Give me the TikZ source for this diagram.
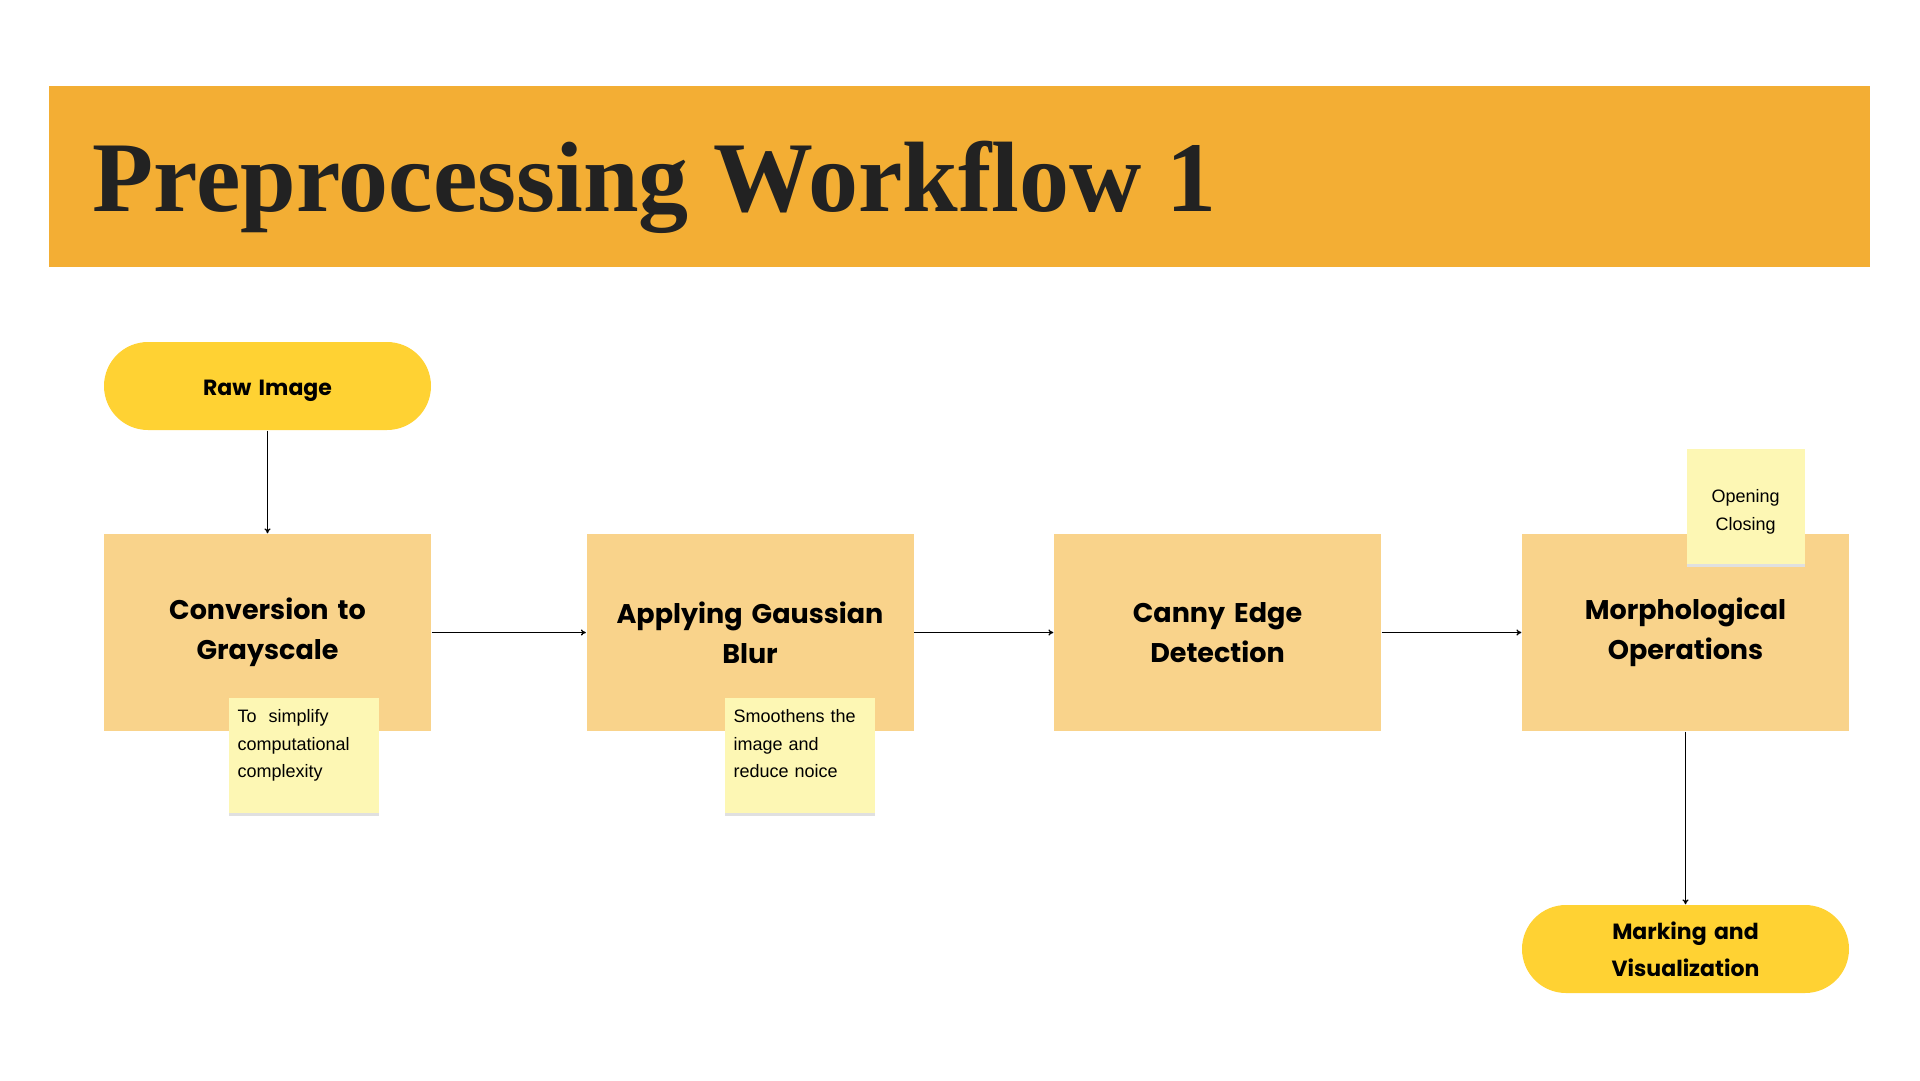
\documentclass[tikz,border=0pt]{standalone}
\usepackage{fontspec}
\setmainfont{Liberation Serif}
\newfontfamily\flowfont{Poppins}
\newfontfamily\notefont{Liberation Sans}
\usetikzlibrary{arrows.meta,shadows}

\definecolor{banner}{HTML}{F3AE34}
\definecolor{pillyellow}{HTML}{FFD233}
\definecolor{boxorange}{HTML}{F9D38B}
\definecolor{stickyyellow}{HTML}{FDF7B4}
\definecolor{ink}{HTML}{222222}

\begin{document}
\begin{tikzpicture}[x=1pt, y=-1pt, >={To[length=5pt,width=6pt]}, line width=1.3pt]
    \tikzstyle{procbox} = [rectangle, fill=boxorange, minimum width=327pt, minimum height=197pt, inner sep=0pt, text width=300pt, align=center, text=black, font=\flowfont\bfseries\fontsize{27}{40}\selectfont]
    \tikzstyle{pill} = [rectangle, rounded corners=44pt, fill=pillyellow, minimum width=327pt, minimum height=88pt, inner sep=0pt, text width=300pt, align=center, text=black, font=\flowfont\bfseries\fontsize{22}{37}\selectfont]
    \tikzstyle{note} = [rectangle, fill=stickyyellow, drop shadow={shadow xshift=0pt, shadow yshift=-3pt, fill=black!12, opacity=1}, inner xsep=9pt, inner ysep=0pt, anchor=north west, font=\notefont\fontsize{18}{27.5}\selectfont]

    \useasboundingbox (0,0) rectangle (1920,1080);

    \node (banner) at (959.5,176.5) [rectangle, fill=banner, minimum width=1821pt, minimum height=181pt] {};
    \node (title) at (92,211) [anchor=base west, inner sep=0pt, text=ink, font=\bfseries\fontsize{100}{102}\selectfont] {Preprocessing Workflow 1};

    \node (raw) at (267.5,386) [pill, text height=26pt, text depth=8pt] {Raw Image};

    \node (gray) at (267.5,632.5) [procbox] {Conversion to \\ Grayscale};
    \node (blur) at (750,632.5) [procbox] {Applying Gaussian \\ Blur};
    \node (edge) at (1217.5,632.5) [procbox] {Canny Edge \\ Detection};
    \node (morph) at (1685.5,632.5) [procbox] {Morphological \\ Operations};

    \node (mark) at (1685.5,949) [pill] {Marking and \\ Visualization};

    \node (n1) at (228,697) [note, text width=132pt, align=left, text height=25pt, text depth=90pt] {To\ \ simplify \\ computational \\ complexity};
    \node (n2) at (724,697) [note, text width=132pt, align=left, text height=25pt, text depth=90pt] {Smoothens the \\ image and \\ reduce noice};
    \node (n3) at (1686,448) [note, text width=100pt, align=center, text height=54pt, text depth=61pt] {Opening \\ Closing};

    \draw [->] (raw) -- (gray);
    \draw [->] (gray) -- (blur);
    \draw [->] (blur) -- (edge);
    \draw [->] (edge) -- (morph);
    \draw [->] (morph) -- (mark);
\end{tikzpicture}
\end{document}
